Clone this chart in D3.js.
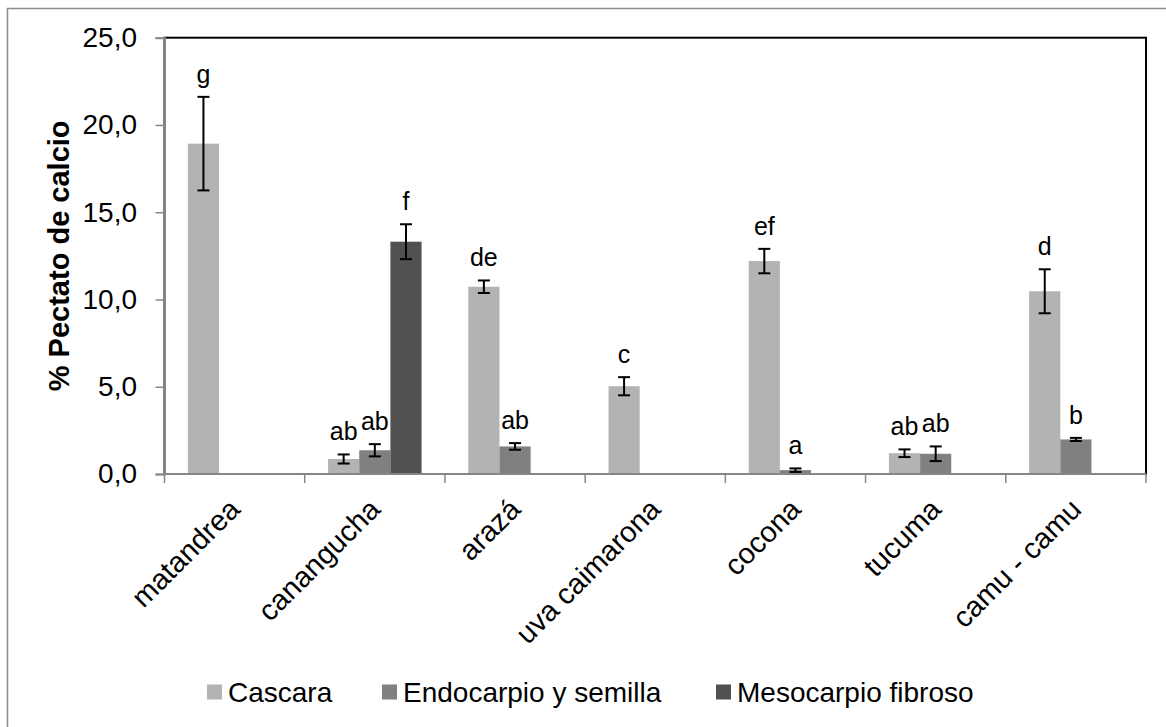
<!DOCTYPE html>
<html>
<head>
<meta charset="utf-8">
<script src="https://cdn.jsdelivr.net/npm/d3@7"></script>
<style>
  body { margin: 0; background: #fff; }
  text { font-family: "Liberation Sans", Arial, sans-serif; fill: #000; }
</style>
</head>
<body>
<div id="chart"></div>
<script>
// data
var categories = ["matandrea", "canangucha", "arazá", "uva caimarona", "cocona", "tucuma", "camu - camu"];
var seriesNames = ["Cascara", "Endocarpio y semilla", "Mesocarpio fibroso"];
var seriesColors = ["#b3b3b3", "#808080", "#515151"];

// null = that part was not measured for the fruit
var cascara    = [18.93, 0.86, 10.73, 5.03, 12.2, 1.19, 10.47];
var endocarpio = [null, 1.36, 1.58, null, 0.22, 1.16, 1.98];
var mesocarpio = [null, 13.31, null, null, null, null, null];

var cascaraErr    = [2.68, 0.26, 0.36, 0.52, 0.7, 0.22, 1.26];
var endocarpioErr = [null, 0.35, 0.19, null, 0.1, 0.42, 0.09];
var mesocarpioErr = [null, 1.0, null, null, null, null, null];

var cascaraLetters    = ["g", "ab", "de", "c", "ef", "ab", "d"];
var endocarpioLetters = [null, "ab", "ab", null, "a", "ab", "b"];
var mesocarpioLetters = [null, "f", null, null, null, null, null];

var yTicks = [0, 5, 10, 15, 20, 25];

var width = 1166, height = 727;
var margin = {top: 37.7, left: 164.5};
var plotW = 1146 - margin.left,
    plotH = 474 - margin.top;

var svg = d3.select("#chart").append("svg")
    .attr("width", width)
    .attr("height", height);

// outer chart frame
svg.append("rect")
    .attr("x", 7.5).attr("y", 8.5)
    .attr("width", width + 20).attr("height", height + 20)
    .attr("fill", "none")
    .attr("stroke", "#8c8c8c")
    .attr("stroke-width", 1.5);

var g = svg.append("g").attr("transform", "translate(" + [margin.left, margin.top] + ")");

var x = d3.scaleBand().domain(categories).range([0, plotW]);
var groupW = x.bandwidth() * 3 / 4.5;   // gap width 150%
var x1 = d3.scaleBand().domain(seriesNames).range([0, groupW]);
var y = d3.scaleLinear().domain([0, 25]).range([plotH, 0]);

// plot area border
g.append("rect")
    .attr("x", 0).attr("y", 0)
    .attr("width", plotW).attr("height", plotH)
    .attr("fill", "none")
    .attr("stroke", "#000")
    .attr("stroke-width", 2);

var series = [
  {name: seriesNames[0], values: cascara, err: cascaraErr, letters: cascaraLetters},
  {name: seriesNames[1], values: endocarpio, err: endocarpioErr, letters: endocarpioLetters},
  {name: seriesNames[2], values: mesocarpio, err: mesocarpioErr, letters: mesocarpioLetters}
];

var rows = [];
series.forEach(function (s, si) {
  categories.forEach(function (c, ci) {
    if (s.values[ci] != null) {
      rows.push({cat: c, series: s.name, si: si, v: s.values[ci], e: s.err[ci], letter: s.letters[ci]});
    }
  });
});

function barX(d) {
  return x(d.cat) + (x.bandwidth() - groupW) / 2 + x1(d.series);
}
function barMid(d) {
  return barX(d) + x1.bandwidth() / 2;
}

g.selectAll(".bar").data(rows).enter().append("rect")
    .attr("class", "bar")
    .attr("x", barX)
    .attr("y", function (d) { return y(d.v); })
    .attr("width", x1.bandwidth())
    .attr("height", function (d) { return y(0) - y(d.v); })
    .attr("fill", function (d) { return seriesColors[d.si]; });

// error bars
var eb = g.selectAll(".err").data(rows).enter().append("g")
    .attr("class", "err")
    .attr("stroke", "#000")
    .attr("stroke-width", 2);

eb.append("line")
    .attr("x1", barMid).attr("x2", barMid)
    .attr("y1", function (d) { return y(d.v + d.e); })
    .attr("y2", function (d) { return y(d.v - d.e); });
[1, -1].forEach(function (sgn) {
  eb.append("line")
      .attr("x1", function (d) { return barMid(d) - 6; })
      .attr("x2", function (d) { return barMid(d) + 6; })
      .attr("y1", function (d) { return y(d.v + sgn * d.e); })
      .attr("y2", function (d) { return y(d.v + sgn * d.e); });
});

// significance letters
g.selectAll(".letter").data(rows).enter().append("text")
    .attr("class", "letter")
    .attr("x", barMid)
    .attr("y", function (d) { return y(d.v + d.e) - 14; })
    .attr("text-anchor", "middle")
    .style("font-size", "25px")
    .text(function (d) { return d.letter; });

// y axis
var yAxis = g.append("g")
    .call(d3.axisLeft(y).tickValues(yTicks).tickSize(9).tickPadding(27)
        .tickFormat(function (d) { return d3.format(".1f")(d).replace(".", ","); }));
yAxis.select(".domain").attr("stroke", "#868686").attr("stroke-width", 2);
yAxis.selectAll(".tick line").attr("stroke", "#868686").attr("stroke-width", 1.5);
yAxis.selectAll(".tick text")
    .attr("x", -27.5)
    .attr("fill", "#000")
    .style("font-size", "28px")
    .style("font-family", "'Liberation Sans', Arial, sans-serif");

// x axis, ticks between categories
var xAxis = g.append("g").attr("transform", "translate(0," + plotH + ")");
xAxis.append("line")
    .attr("x1", 0).attr("x2", plotW)
    .attr("stroke", "#868686").attr("stroke-width", 2);
xAxis.selectAll(".bt").data(d3.range(categories.length + 1)).enter().append("line")
    .attr("x1", function (i) { return i * x.step(); })
    .attr("x2", function (i) { return i * x.step(); })
    .attr("y1", 0).attr("y2", 9)
    .attr("stroke", "#868686").attr("stroke-width", 1.5);
xAxis.selectAll(".cat").data(categories).enter().append("text")
    .attr("class", "cat")
    .attr("transform", function (d) {
      return "translate(" + (x(d) + x.bandwidth() / 2 + 7) + ",37) rotate(-45)";
    })
    .attr("text-anchor", "end")
    .style("font-size", "29px")
    .text(function (d) { return d; });

// y axis title
svg.append("text")
    .attr("transform", "translate(69," + (margin.top + plotH / 2) + ") rotate(-90)")
    .attr("text-anchor", "middle")
    .style("font-size", "29px")
    .style("font-weight", "bold")
    .text("% Pectato de calcio");

// legend
var legendX = [207, 382, 716];
var legend = svg.selectAll(".legend").data(seriesNames).enter().append("g")
    .attr("class", "legend")
    .attr("transform", function (d, i) { return "translate(" + legendX[i] + ",692)"; });
legend.append("rect")
    .attr("x", 0).attr("y", -7.5)
    .attr("width", 15).attr("height", 15)
    .attr("fill", function (d, i) { return seriesColors[i]; });
legend.append("text")
    .attr("x", 21).attr("y", 10)
    .style("font-size", "28px")
    .text(function (d) { return d; });
</script>
</body>
</html>
